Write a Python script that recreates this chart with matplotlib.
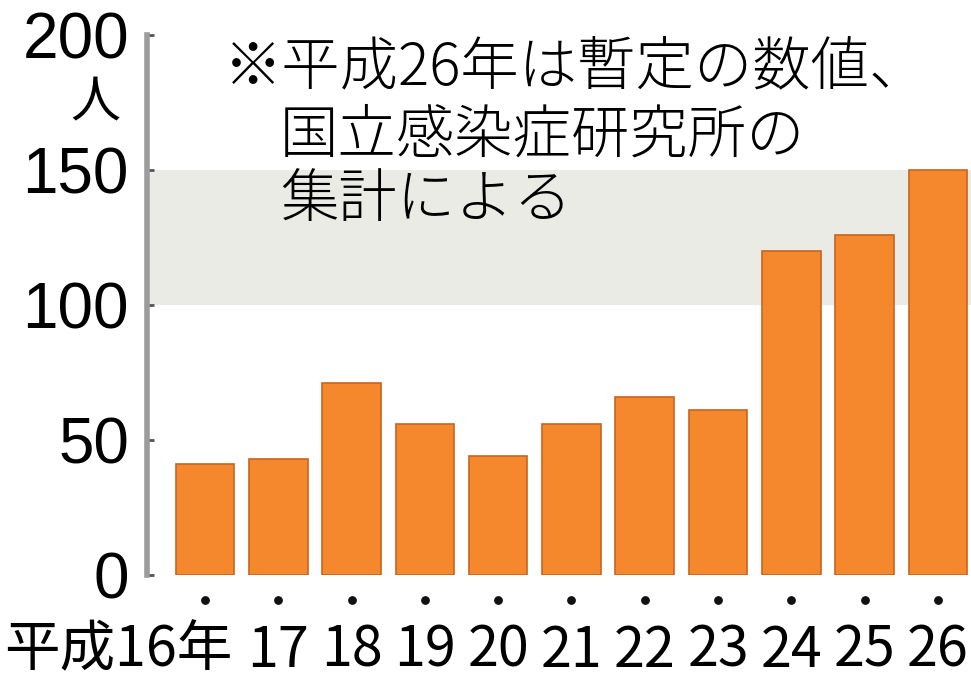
import matplotlib
matplotlib.use('Agg')
import matplotlib.pyplot as plt
from matplotlib.transforms import ScaledTranslation

plt.rcParams['font.family'] = ['Noto Sans CJK JP', 'DejaVu Sans']

# 患者数（人）、平成16年〜26年
years = ['平成16年', '17', '18', '19', '20', '21', '22', '23', '24', '25', '26']
patients = [41, 43, 71, 56, 44, 56, 66, 61, 120, 126, 150]
y_ticks = [0, 50, 100, 150, 200]

note_lines = ['※平成26年は暫定の数値、', '国立感染症研究所の', '集計による']

fig = plt.figure(figsize=(9.71, 6.85), dpi=100)
ax = fig.add_axes([147 / 971, 110 / 685, 824 / 971, 540 / 685])

x = list(range(len(years)))

# shaded band 100-150
ax.axhspan(100, 150, color='#ebebe5', zorder=0, lw=0)

ax.bar(x, patients, width=0.8, color='#f5882c', edgecolor='#c8641e',
       linewidth=1.2, zorder=2)

# small dots under each bar
ax.scatter(x, [-9.3] * len(x), s=28, color='#111111', clip_on=False, zorder=3)

ax.set_xlim(-0.79, 10.45)
ax.set_ylim(0, 200)

for side in ['top', 'right', 'bottom']:
    ax.spines[side].set_visible(False)
ax.spines['left'].set_color('#9c9c9c')
ax.spines['left'].set_linewidth(4)

ax.set_yticks(y_ticks)
ax.set_yticklabels([str(v) for v in y_ticks],
                   fontfamily=['Liberation Sans', 'DejaVu Sans'],
                   fontsize=46)
ax.tick_params(axis='y', direction='in', length=5, width=2, color='#555555',
               pad=13)

ax.set_xticks(x)
ax.set_xticklabels(years, fontsize=40)
ax.tick_params(axis='x', length=0, pad=34)

# first label is longer; push it left so it ends just right of the bar
first = ax.get_xticklabels()[0]
first.set_ha('right')
first.set_transform(first.get_transform() +
                    ScaledTranslation(0.27, 0, fig.dpi_scale_trans))

# unit under the top tick
fig.text(95 / 971, 1 - 103 / 685, '人', fontsize=36, ha='center', va='center')

# note text
fig.text(224 / 971, 1 - 68 / 685, note_lines[0], fontsize=42, va='center',
         fontweight='light')
fig.text(280 / 971, 1 - 136 / 685, note_lines[1], fontsize=42, va='center',
         fontweight='light')
fig.text(280 / 971, 1 - 201 / 685, note_lines[2], fontsize=42, va='center',
         fontweight='light')

fig.savefig('out.png', dpi=100)
